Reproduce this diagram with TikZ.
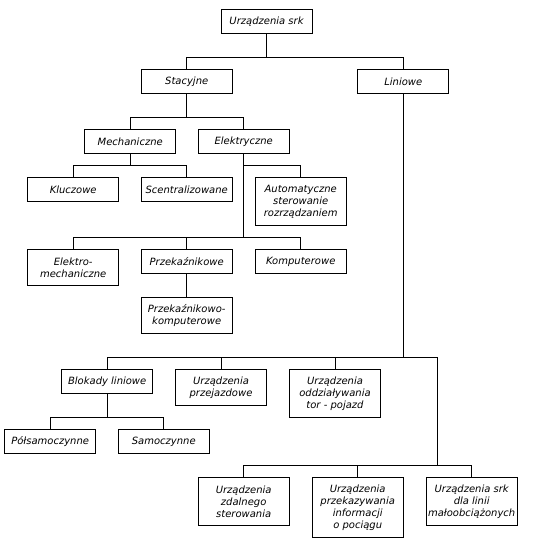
\documentclass[tikz,border=0pt]{standalone}
\usepackage{fontspec}
\setmainfont{DejaVu Sans}
\begin{document}
\begin{tikzpicture}[x=1pt,y=-1pt,
  every path/.style={line width=0.9pt},
  bx/.style={draw, line width=0.9pt, anchor=north, minimum width=91pt, inner xsep=0pt, inner ysep=0pt,
    align=center, font=\fontsize{10}{12}\selectfont\itshape},
  l1/.style={bx, minimum height=24pt},
  l2/.style={bx, minimum height=36pt},
  l3/.style={bx, minimum height=48pt},
  l4/.style={bx, minimum height=60pt}]
\useasboundingbox (0,0) rectangle (550,550);
\node[l1] (root) at (266.5,9.3) {Urządzenia srk};
\node[l1] (stac) at (186.7,69.3) {Stacyjne};
\node[l1] (lin) at (403.3,69.3) {Liniowe};
\node[l1] (mech) at (130.2,129.3) {Mechaniczne};
\node[l1] (elek) at (243.7,129.3) {Elektryczne};
\node[l1] (klucz) at (73.2,177.3) {Kluczowe};
\node[l1] (scent) at (186.7,177.3) {Scentralizowane};
\node[l3] (auto) at (300.7,177.3) {Automatyczne\\sterowanie\\rozrządzaniem};
\node[l2] (elmech) at (73.2,249.3) {Elektro-\\mechaniczne};
\node[l1] (przek) at (186.7,249.3) {Przekaźnikowe};
\node[l1] (komp) at (300.7,249.3) {Komputerowe};
\node[l2] (przkomp) at (186.7,297.3) {Przekaźnikowo-\\komputerowe};
\node[l1] (blok) at (107.2,369.3) {Blokady liniowe};
\node[l2] (przej) at (221,369.3) {Urządzenia\\przejazdowe};
\node[l3] (oddz) at (335,369.3) {Urządzenia\\oddziaływania\\tor - pojazd};
\node[l1] (polsam) at (50.2,429.3) {Półsamoczynne};
\node[l1] (samo) at (163.8,429.3) {Samoczynne};
\node[l3] (zdal) at (243.7,477.3) {Urządzenia\\zdalnego\\sterowania};
\node[l4] (info) at (357.7,477.3) {Urządzenia\\przekazywania\\informacji\\o pociągu};
\node[l3] (mal) at (471.7,477.3) {Urządzenia srk\\dla linii\\małoobciążonych};
\coordinate (j) at (437.3,357.3);
\coordinate (j2) at (437.3,465.3);
% root
\draw (stac.north) -- ++(0,-12) coordinate (b1) -| (lin.north);
\draw (root.south) -- (root.south |- b1);
% stacyjne
\draw (mech.north) -- ++(0,-12) coordinate (b2) -| (elek.north);
\draw (stac.south) -- (stac.south |- b2);
% mechaniczne
\draw (klucz.north) -- ++(0,-12) coordinate (b3) -| (scent.north);
\draw (mech.south) -- (mech.south |- b3);
% elektryczne
\draw (elmech.north) -- ++(0,-12) coordinate (b4) -| (komp.north);
\draw (przek.north) -- (przek.north |- b4);
\draw (elek.south) -- (elek.south |- b4);
\draw (auto.north) -- ++(0,-12) -| (elek.south);
\draw (przek.south) -- (przkomp.north);
% liniowe
\draw (blok.north) -- ++(0,-12) coordinate (b5) -- (j) -- (j2);
\draw (lin.south) -- (lin.south |- b5);
\draw (przej.north) -- (przej.north |- b5);
\draw (oddz.north) -- (oddz.north |- b5);
\draw (zdal.north) -- (zdal.north |- j2) -| (mal.north);
\draw (info.north) -- (info.north |- j2);
% blokady
\draw (polsam.north) -- ++(0,-12) coordinate (b6) -| (samo.north);
\draw (blok.south) -- (blok.south |- b6);
\end{tikzpicture}
\end{document}
